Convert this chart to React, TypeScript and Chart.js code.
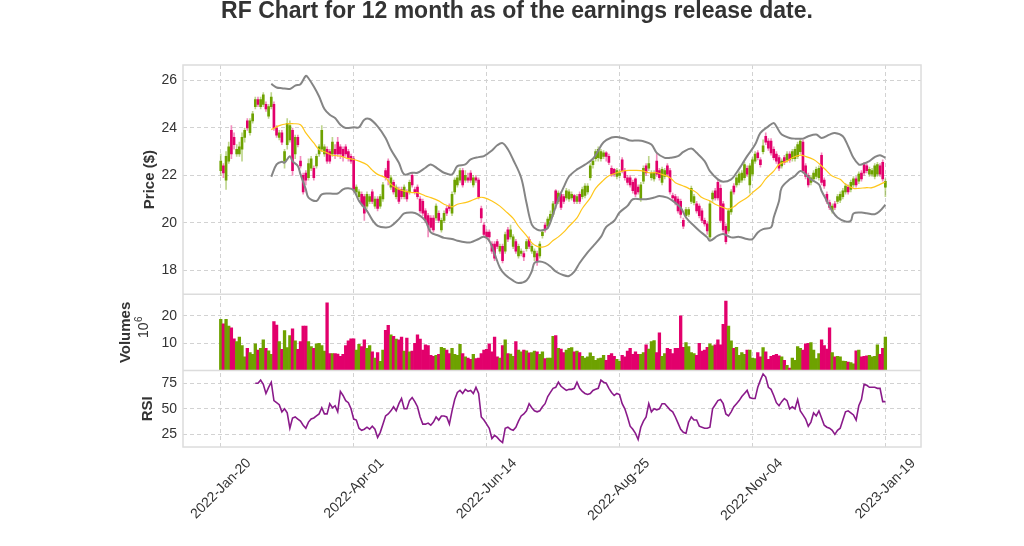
import React, { useEffect, useRef } from "react";
import { Chart, registerables } from "chart.js";

Chart.register(...registerables);

const FONT = "'Liberation Sans', Arial, sans-serif";

const tickDays = [0, 50, 100, 150, 200, 250];
const tickLabels = ["2022-Jan-20", "2022-Apr-01", "2022-Jun-14", "2022-Aug-25", "2022-Nov-04", "2023-Jan-19"];

const opens = [
  22.2, 22.4, 21.8, 22.6, 23.9, 23.6, 22.9, 22.9, 23.1, 23.6, 24.3, 23.8, 24.3, 24.9, 25.2, 24.9, 25.0, 25.0, 24.5, 24.9,
  25.0, 24.0, 23.6, 23.8, 22.6, 23.3, 23.5, 23.9, 22.9, 23.6, 22.6, 22.0, 22.1, 21.9, 22.3, 22.3, 22.4, 22.9, 23.1, 22.9,
  23.1, 23.0, 22.9, 23.1, 23.4, 23.2, 23.1, 23.2, 23.0, 22.8, 22.7, 21.3, 21.1, 21.2, 21.1, 20.7, 20.9, 21.3, 20.7, 21.0,
  20.7, 21.0, 22.2, 22.6, 21.5, 21.7, 21.1, 21.4, 21.4, 21.1, 21.3, 21.3, 22.0, 21.4, 21.5, 21.0, 20.9, 20.5, 20.3, 20.2,
  20.2, 20.2, 20.4, 19.7, 20.1, 20.6, 20.7, 20.4, 21.3, 21.6, 21.8, 22.2, 21.8, 21.9, 22.1, 21.6, 21.9, 21.8, 20.6, 19.9,
  19.6, 19.6, 19.1, 19.1, 19.2, 18.8, 19.0, 18.8, 19.7, 19.4, 19.0, 19.2, 18.6, 18.7, 18.7, 18.9, 19.3, 18.8, 18.55, 18.7,
  18.6, 19.45, 19.9, 19.85, 20.1, 20.35, 21.35, 20.9, 21.2, 21.1, 21.05, 21.0, 21.05, 21.15, 20.9, 21.2, 21.1, 21.15, 21.3, 21.9,
  22.45, 22.7, 22.75, 22.7, 22.8, 22.95, 22.8, 22.3, 22.25, 21.95, 22.0, 22.65, 22.2, 21.9, 21.9, 21.7, 21.85, 21.5, 20.99, 21.75,
  22.4, 22.3, 21.9, 21.85, 22.6, 22.2, 21.7, 21.95, 22.4, 22.2, 21.15, 21.1, 21.0, 20.9, 20.1, 20.3, 20.35, 20.9, 20.85, 20.8,
  20.7, 20.5, 20.1, 19.95, 19.4, 21.0, 21.35, 21.7, 21.45, 20.8, 19.85, 19.65, 20.45, 21.55, 21.6, 21.7, 21.8, 21.9, 22.3, 21.6,
  22.05, 22.6, 22.95, 22.65, 23.0, 23.65, 23.45, 23.45, 23.1, 22.9, 22.75, 22.4, 22.75, 22.65, 22.9, 22.7, 22.7, 22.8, 23.0, 23.4,
  22.4, 22.0, 21.7, 21.85, 21.95, 21.9, 22.85, 21.8, 21.2, 20.85, 20.5, 20.8, 20.9, 20.95, 21.1, 21.3, 21.5, 21.4, 21.6, 21.85,
  21.75, 22.1, 22.45, 22.4, 22.05, 22.05, 21.95, 22.05, 22.4, 22.55, 21.5,
];

const closes = [
  22.6, 22.1, 22.8, 23.2, 22.9, 23.3, 23.1, 23.2, 23.6, 23.9, 24.0, 24.3, 24.6, 25.2, 25.0, 25.2, 25.4, 24.8, 24.9, 25.3,
  24.0, 23.7, 23.8, 23.4, 23.0, 24.2, 24.1, 22.2, 23.6, 23.3, 22.4, 21.3, 21.8, 22.5, 22.7, 21.9, 22.8, 23.2, 23.9, 23.2,
  22.6, 22.6, 23.4, 22.9, 22.9, 22.9, 22.8, 22.9, 22.7, 22.6, 21.4, 21.5, 21.3, 20.8, 20.4, 21.2, 21.1, 20.9, 21.0, 20.6,
  21.1, 21.6, 21.9, 21.9, 21.9, 21.3, 21.5, 20.9, 21.1, 21.5, 21.0, 21.7, 21.6, 21.3, 21.1, 20.5, 20.4, 20.1, 19.9, 19.8,
  19.7, 20.7, 20.1, 20.1, 20.4, 20.4, 20.6, 21.2, 21.8, 21.9, 22.2, 21.6, 22.0, 21.8, 21.8, 21.9, 21.8, 21.1, 20.2, 19.5,
  19.4, 19.4, 18.8, 18.5, 19.0, 19.0, 18.4, 19.5, 19.3, 19.7, 19.4, 18.8, 19.0, 18.8, 18.55, 19.2, 19.0, 19.0, 18.8, 18.4,
  19.1, 19.6, 19.7, 20.15, 20.35, 20.8, 20.8, 21.25, 20.65, 20.9, 21.35, 21.3, 21.2, 20.9, 21.1, 20.9, 21.4, 21.55, 21.55, 22.4,
  22.6, 23.0, 23.1, 23.0, 22.95, 22.8, 22.55, 22.05, 22.05, 22.2, 22.1, 22.2, 21.9, 21.7, 21.6, 21.35, 21.2, 21.3, 21.6, 22.3,
  22.1, 22.5, 22.1, 22.1, 22.05, 21.9, 22.25, 22.2, 22.05, 21.3, 21.05, 20.85, 20.5, 20.35, 19.85, 20.55, 20.55, 21.45, 21.1, 20.5,
  20.3, 20.1, 19.95, 19.65, 20.8, 21.25, 21.05, 21.05, 20.1, 19.7, 19.2, 20.5, 21.3, 21.3, 21.9, 22.05, 22.1, 22.45, 22.05, 22.4,
  22.65, 22.9, 22.75, 22.45, 23.25, 23.4, 23.15, 22.95, 22.75, 22.6, 22.3, 22.6, 22.55, 22.9, 22.65, 23.0, 23.1, 23.3, 23.45, 22.2,
  21.95, 21.6, 21.9, 22.1, 22.25, 22.3, 21.7, 21.55, 20.9, 20.65, 20.7, 20.65, 21.1, 21.2, 21.35, 21.55, 21.3, 21.7, 21.85, 21.6,
  22.05, 21.85, 22.1, 22.2, 22.25, 22.2, 22.4, 22.45, 22.05, 21.85, 21.75,
];

const highs = [
  22.9, 22.5, 23.0, 23.4, 24.1, 23.8, 23.3, 23.4, 23.8, 24.0, 24.4, 24.4, 24.7, 25.3, 25.3, 25.3, 25.5, 25.1, 25.0, 25.5,
  25.1, 24.1, 23.9, 23.9, 23.1, 24.4, 24.3, 24.0, 23.7, 23.7, 22.8, 22.1, 22.2, 22.7, 22.8, 22.4, 22.9, 23.3, 24.1, 23.3,
  23.2, 23.1, 23.6, 23.3, 23.6, 23.3, 23.2, 23.3, 23.1, 22.9, 22.8, 21.6, 21.4, 21.3, 21.2, 21.3, 21.2, 21.4, 21.1, 21.1,
  21.2, 21.7, 22.3, 22.7, 22.0, 21.8, 21.6, 21.5, 21.5, 21.6, 21.4, 21.8, 22.1, 21.5, 21.6, 21.1, 21.0, 20.6, 20.4, 20.3,
  20.3, 20.8, 20.5, 20.2, 20.5, 20.7, 20.8, 21.3, 21.9, 22.0, 22.3, 22.3, 22.2, 22.1, 22.2, 22.0, 22.0, 21.9, 20.7, 20.0,
  19.7, 19.7, 19.2, 19.2, 19.3, 19.1, 19.1, 19.6, 19.8, 19.9, 19.5, 19.3, 19.1, 18.9, 18.8, 19.3, 19.4, 19.1, 18.9, 18.8,
  19.2, 19.7, 20.0, 20.25, 20.5, 20.9, 21.4, 21.35, 21.3, 21.2, 21.45, 21.4, 21.3, 21.2, 21.2, 21.3, 21.5, 21.65, 21.65, 22.5,
  22.7, 23.1, 23.2, 23.1, 23.05, 23.0, 22.9, 22.4, 22.3, 22.3, 22.25, 22.75, 22.3, 22.0, 22.0, 21.8, 21.9, 21.6, 21.7, 22.4,
  22.5, 22.8, 22.2, 22.2, 22.95, 22.3, 22.35, 22.3, 22.5, 22.3, 21.25, 21.2, 21.1, 21.0, 20.2, 20.65, 20.65, 21.55, 21.2, 20.9,
  20.8, 20.6, 20.2, 20.05, 20.9, 21.35, 21.45, 21.8, 21.6, 20.9, 19.95, 20.6, 21.4, 21.65, 22.0, 22.15, 22.2, 22.55, 22.4, 22.5,
  22.75, 23.0, 23.05, 22.75, 23.5, 23.8, 23.55, 23.55, 23.2, 23.0, 22.85, 22.7, 22.85, 23.0, 23.0, 23.1, 23.2, 23.4, 23.55, 23.5,
  22.5, 22.1, 22.0, 22.2, 22.35, 22.4, 22.95, 21.9, 21.3, 20.95, 20.8, 20.9, 21.2, 21.3, 21.45, 21.65, 21.6, 21.8, 21.95, 21.95,
  22.15, 22.2, 22.55, 22.5, 22.35, 22.3, 22.5, 22.55, 22.5, 22.65, 21.85,
];

const lows = [
  22.0, 21.9, 21.4, 22.5, 22.7, 23.1, 22.8, 22.8, 22.6, 23.4, 23.9, 23.7, 24.2, 24.8, 24.9, 24.8, 24.9, 24.7, 24.4, 24.8,
  23.9, 23.6, 23.5, 23.3, 22.3, 23.1, 23.4, 22.0, 22.7, 23.2, 22.3, 21.2, 21.6, 21.8, 22.2, 21.8, 22.3, 22.8, 23.0, 22.8,
  22.5, 22.5, 22.8, 22.7, 22.8, 22.7, 22.6, 22.8, 22.6, 22.5, 21.3, 21.2, 21.0, 20.7, 20.1, 20.6, 20.8, 20.8, 20.6, 20.5,
  20.6, 20.9, 21.8, 21.6, 21.4, 21.2, 21.0, 20.8, 21.0, 21.0, 20.9, 21.2, 21.5, 21.2, 21.0, 20.4, 20.3, 20.0, 19.4, 19.7,
  19.6, 20.1, 20.0, 19.6, 20.0, 20.3, 20.5, 20.3, 21.2, 21.5, 21.7, 21.5, 21.7, 21.7, 21.7, 21.5, 21.7, 21.0, 20.0, 19.4,
  19.3, 19.2, 18.7, 18.4, 18.9, 18.7, 18.3, 18.7, 19.2, 19.3, 18.9, 18.7, 18.5, 18.6, 18.4, 18.8, 18.9, 18.7, 18.4, 18.2,
  18.5, 19.35, 19.6, 19.75, 20.0, 20.25, 20.6, 20.8, 20.55, 20.8, 20.95, 20.9, 20.95, 20.8, 20.8, 20.8, 21.0, 21.05, 21.2, 21.8,
  22.3, 22.6, 22.6, 22.6, 22.7, 22.6, 22.45, 21.95, 21.95, 21.85, 21.9, 22.1, 21.8, 21.6, 21.5, 21.25, 21.1, 21.2, 20.9, 21.65,
  22.0, 22.2, 21.8, 21.75, 21.95, 21.8, 21.6, 21.85, 21.95, 21.2, 20.95, 20.75, 20.4, 20.2, 19.75, 20.2, 20.25, 20.8, 20.75, 20.4,
  20.2, 20.0, 19.85, 19.5, 19.3, 20.9, 20.95, 20.95, 20.0, 19.6, 19.1, 19.55, 20.35, 21.2, 21.5, 21.6, 21.7, 21.8, 21.95, 21.25,
  21.95, 22.5, 22.65, 22.35, 22.9, 23.3, 23.05, 22.85, 22.65, 22.5, 22.2, 22.3, 22.45, 22.55, 22.55, 22.6, 22.6, 22.7, 22.9, 22.1,
  21.85, 21.5, 21.6, 21.75, 21.85, 21.8, 21.6, 21.45, 20.8, 20.55, 20.4, 20.55, 20.8, 20.85, 21.0, 21.2, 21.2, 21.3, 21.5, 21.5,
  21.65, 21.75, 22.0, 22.1, 21.95, 21.95, 21.85, 21.95, 21.95, 21.75, 21.1,
];

// volumes in millions
const volumes = [
  18.75, 17.1, 18.75, 16.25, 15.6, 11.6, 10.6, 12.25, 9.1, 5.0, 8.1, 6.6, 5.9, 9.75, 7.5, 8.1, 11.25, 8.1, 7.25, 5.9,
  17.9, 16.6, 10.6, 7.75, 14.6, 8.4, 12.75, 15.25, 10.9, 7.75, 10.6, 16.25, 16.25, 10.6, 8.75, 8.1, 9.75, 10.0, 9.1, 7.1,
  24.75, 6.25, 6.25, 6.25, 6.0, 5.25, 5.9, 9.1, 10.9, 11.6, 11.6, 7.5, 9.6, 8.75, 11.25, 8.1, 9.1, 6.9, 4.6, 6.6,
  3.4, 7.5, 14.75, 16.5, 13.1, 12.5, 11.5, 11.25, 12.25, 7.1, 11.9, 6.9, 7.1, 10.0, 13.1, 11.5, 7.5, 9.4, 9.1, 5.6,
  5.25, 5.6, 5.9, 8.5, 8.1, 7.5, 6.25, 8.1, 5.9, 5.6, 9.6, 6.25, 5.0, 4.6, 4.1, 5.9, 4.4, 4.6, 6.25, 7.5,
  7.75, 9.75, 6.9, 12.25, 5.0, 4.6, 9.1, 11.25, 6.25, 6.0, 5.25, 10.6, 7.5, 6.9, 7.5, 7.25, 6.5, 6.6, 7.1, 6.9,
  5.9, 6.9, 4.4, 4.6, 4.6, 12.5, 12.75, 8.1, 7.9, 6.6, 7.5, 8.1, 8.4, 6.9, 7.1, 6.6, 5.25, 4.6, 5.0, 6.5,
  5.25, 3.75, 4.4, 4.6, 5.6, 3.75, 5.6, 6.25, 5.25, 4.1, 3.4, 5.6, 5.0, 7.1, 8.1, 5.9, 6.9, 5.9, 5.9, 6.6,
  9.4, 7.9, 10.6, 11.0, 6.6, 13.75, 5.25, 6.25, 8.1, 7.75, 6.25, 8.1, 8.1, 20.0, 8.5, 10.25, 8.75, 6.6, 6.25, 5.6,
  10.0, 7.1, 7.5, 8.5, 9.75, 9.0, 9.4, 11.25, 9.4, 16.9, 25.4, 16.25, 10.9, 8.1, 8.5, 5.6, 6.6, 5.9, 7.5, 7.5,
  4.6, 4.4, 6.6, 5.0, 8.4, 6.9, 4.1, 5.25, 5.6, 5.9, 5.4, 5.0, 3.75, 1.9, 0.9, 4.6, 3.75, 8.75, 8.1, 7.5,
  9.75, 10.0, 10.25, 7.5, 4.4, 6.25, 11.25, 9.1, 7.9, 15.6, 6.6, 5.0, 5.25, 5.0, 3.5, 3.4, 3.1, 2.9, 2.5, 7.25,
  7.5, 5.0, 5.25, 5.4, 5.6, 5.0, 5.25, 9.4, 5.9, 8.1, 12.25,
];

const maDays = [19, 22, 25, 27, 30, 32, 35, 37, 40, 42, 45, 47, 50, 52, 55, 57, 59, 62, 64, 67, 69, 72, 74, 77, 79, 82, 84, 87, 89, 92, 94, 97, 99, 102, 105, 107, 110, 112, 115, 117, 119, 121, 123, 125, 127, 129, 131, 134, 136, 139, 141, 144, 146, 149, 151, 154, 156, 159, 161, 164, 166, 169, 171, 174, 176, 179, 181, 184, 186, 189, 191, 193, 195, 198, 200, 203, 205, 208, 210, 213, 215, 218, 220, 223, 225, 228, 230, 233, 235, 238, 240, 243, 245, 248, 250];
const maValues = [23.93, 24.1, 24.18, 24.18, 24.14, 23.79, 23.37, 23.09, 22.95, 22.85, 22.81, 22.74, 22.67, 22.6, 22.45, 22.22, 22.04, 21.9, 21.62, 21.41, 21.34, 21.27, 21.27, 21.13, 21.06, 20.92, 20.78, 20.67, 20.78, 20.85, 20.92, 21.06, 21.06, 20.92, 20.7, 20.5, 20.18, 19.85, 19.45, 19.15, 19.0, 18.97, 19.05, 19.25, 19.4, 19.6, 19.85, 20.2, 20.6, 21.05, 21.45, 21.8, 21.98, 22.11, 22.18, 22.21, 22.21, 22.18, 22.11, 22.11, 22.04, 21.9, 21.69, 21.55, 21.45, 21.27, 21.06, 20.92, 20.78, 20.64, 20.57, 20.67, 20.85, 21.06, 21.27, 21.55, 21.85, 22.18, 22.46, 22.6, 22.74, 22.85, 22.8, 22.67, 22.5, 22.18, 21.97, 21.83, 21.62, 21.45, 21.45, 21.48, 21.48, 21.62, 21.73];

const upperDays = [19, 21, 23, 26, 28, 30, 32, 33, 35, 37, 39, 41, 43, 45, 47, 50, 52, 54, 56, 59, 62, 64, 67, 69, 72, 74, 77, 79, 82, 84, 87, 89, 92, 94, 97, 99, 102, 104, 106, 108, 110, 113, 115, 117, 119, 121, 123, 125, 127, 129, 131, 134, 137, 140, 142, 144, 147, 149, 152, 154, 157, 159, 162, 164, 167, 169, 172, 174, 177, 179, 182, 184, 187, 189, 192, 194, 196, 198, 201, 203, 206, 208, 209, 211, 214, 216, 219, 221, 224, 226, 229, 231, 234, 236, 238, 240, 241, 244, 246, 248, 250];
const upperValues = [25.86, 25.71, 25.68, 25.65, 25.79, 25.85, 26.2, 26.1, 25.75, 25.33, 24.8, 24.56, 24.42, 24.14, 24.0, 24.03, 24.03, 24.35, 24.38, 24.07, 23.58, 23.09, 22.53, 22.04, 22.11, 22.11, 22.32, 22.46, 22.25, 22.11, 22.04, 22.39, 22.46, 22.67, 22.77, 22.81, 23.05, 23.27, 23.36, 23.1, 22.66, 21.9, 20.84, 19.92, 19.71, 19.68, 19.78, 20.35, 21.0, 21.5, 21.95, 22.25, 22.45, 22.7, 23.05, 23.4, 23.6, 23.62, 23.55, 23.47, 23.47, 23.44, 23.3, 22.95, 22.74, 22.74, 22.81, 22.99, 23.13, 22.95, 22.6, 22.18, 21.83, 21.73, 21.83, 22.11, 22.45, 22.81, 23.3, 23.79, 24.07, 24.21, 24.07, 23.72, 23.58, 23.55, 23.55, 23.65, 23.72, 23.58, 23.72, 23.79, 23.65, 23.23, 22.74, 22.46, 22.46, 22.6, 22.77, 22.85, 22.74];

const lowerDays = [19, 21, 23, 24, 26, 27, 29, 30, 32, 33, 36, 38, 41, 44, 46, 48, 50, 52, 55, 57, 59, 62, 64, 67, 69, 72, 74, 77, 79, 82, 84, 87, 89, 92, 94, 97, 99, 101, 103, 105, 107, 110, 112, 115, 117, 118, 120, 122, 124, 126, 129, 131, 133, 135, 138, 140, 143, 145, 148, 150, 153, 155, 158, 160, 163, 165, 168, 170, 173, 175, 178, 180, 183, 184, 187, 189, 192, 195, 198, 200, 202, 204, 207, 208, 210, 211, 214, 216, 218, 220, 222, 225, 226, 228, 230, 232, 235, 237, 238, 241, 243, 246, 248, 250];
const lowerValues = [21.94, 22.46, 22.57, 22.53, 22.81, 22.6, 22.39, 22.04, 21.41, 21.06, 20.92, 21.2, 21.23, 21.23, 21.41, 21.45, 21.37, 20.92, 20.5, 20.12, 19.87, 19.8, 19.85, 20.15, 20.39, 20.43, 20.36, 20.08, 19.59, 19.45, 19.36, 19.31, 19.24, 19.17, 19.17, 19.31, 19.41, 19.24, 18.69, 18.1, 17.8, 17.55, 17.45, 17.56, 17.95, 18.3, 18.36, 18.3, 18.15, 17.94, 17.78, 17.75, 17.93, 18.3, 18.75, 19.0, 19.4, 19.82, 20.08, 20.43, 20.71, 20.99, 20.99, 20.99, 21.06, 21.13, 21.06, 20.92, 20.64, 20.22, 19.87, 19.66, 19.38, 19.24, 19.45, 19.52, 19.38, 19.4, 19.31, 19.31, 19.59, 19.73, 19.8, 20.22, 20.92, 21.48, 21.83, 21.97, 22.18, 22.04, 21.83, 21.62, 21.34, 20.92, 20.5, 20.22, 20.05, 20.08, 20.39, 20.43, 20.4, 20.36, 20.5, 20.76];

const rsiStart = 13;
const rsiValues = [
  75, 75, 78, 74, 65, 71, 76, 58, 56, 54, 47, 50, 46, 31, 41, 42, 40, 38, 34, 31,
  37, 40, 41, 43, 45, 51, 45, 45, 55, 51, 53, 47, 67, 63, 58, 56, 50, 40, 39, 31,
  29, 30, 32, 30, 33, 30, 22, 27, 35, 43, 45, 48, 52, 48, 55, 60, 50, 50, 58, 61,
  57, 52, 42, 35, 35, 36, 34, 37, 42, 39, 43, 43, 42, 35, 48, 59, 66, 68, 65, 69,
  67, 68, 65, 71, 65, 42, 39, 35, 31, 21, 24, 22, 19, 17, 31, 32, 30, 29, 32, 38,
  43, 45, 48, 55, 51, 48, 47, 48, 52, 55, 62, 66, 70, 71, 76, 72, 70, 68, 69, 69,
  70, 76, 70, 67, 65, 64, 65, 68, 69, 70, 78, 76, 75, 70, 66, 63, 65, 64, 55, 50,
  42, 33, 30, 26, 20, 32, 38, 42, 55, 47, 50, 49, 50, 55, 55, 52, 49, 47, 42, 36,
  30, 27, 26, 37, 42, 39, 39, 33, 32, 31, 31, 32, 50, 54, 58, 59, 55, 45, 43, 47,
  52, 55, 58, 62, 65, 68, 61, 60, 60, 71, 78, 84, 81, 71, 69, 63, 56, 53, 57, 60,
  58, 50, 52, 50, 59, 48, 44, 40, 33, 37, 46, 43, 48, 41, 34, 32, 31, 29, 25, 29,
  31, 39, 47, 48, 46, 44, 39, 53, 59, 74, 73, 71, 71, 71, 70, 70, 57, 57,
];

const UP = "#6ea200";
const DOWN = "#e2006c";
const UP_WICK = "rgba(110,162,0,0.45)";
const DOWN_WICK = "rgba(226,0,108,0.45)";
const GRID = "#d2d2d2";
const TEXT = "#333333";

const framePlugin = {
  id: "frame",
  afterDraw(chart: any) {
    const { ctx, chartArea } = chart;
    const { left, right, top, bottom } = chartArea;
    ctx.save();
    ctx.strokeStyle = "#dcdcdc";
    ctx.lineWidth = 1.5;
    ctx.strokeRect(left, top, right - left, bottom - top);
    const seps = [chart.scales.yVol.top, chart.scales.yRsi.top];
    ctx.beginPath();
    for (const y of seps) {
      ctx.moveTo(left, y);
      ctx.lineTo(right, y);
    }
    ctx.stroke();
    // volume scale multiplier text: 10 with superscript 6
    const s = chart.scales.yVol;
    ctx.translate(s.left + 31, (s.top + s.bottom) / 2 - 5);
    ctx.rotate(-Math.PI / 2);
    ctx.fillStyle = TEXT;
    ctx.textBaseline = "middle";
    ctx.textAlign = "left";
    ctx.font = `14px ${FONT}`;
    const wBase = ctx.measureText("10").width;
    ctx.font = `10px ${FONT}`;
    const wExp = ctx.measureText("6").width;
    const x0 = -(wBase + wExp) / 2;
    ctx.font = `14px ${FONT}`;
    ctx.fillText("10", x0, 0);
    ctx.font = `10px ${FONT}`;
    ctx.fillText("6", x0 + wBase + 0.5, -5);
    ctx.restore();
  },
};

export default function App() {
  const canvasRef = useRef<HTMLCanvasElement | null>(null);

  useEffect(() => {
    if (!canvasRef.current) return;
    const isUp = closes.map((c, i) => c >= opens[i]);
    const days = opens.map((_, i) => i);

    const gridOpts = { color: GRID, lineWidth: 1, drawTicks: false };
    const borderOpts = { display: false, dash: [4, 3] };
    const tickFont = { family: FONT, size: 14 };
    const titleFont = { family: FONT, size: 15, weight: "bold" as const };

    const chart = new Chart(canvasRef.current, {
      type: "bar",
      data: {
        datasets: [
          {
            type: "line",
            data: upperDays.map((d, k) => ({ x: d, y: upperValues[k] })),
            borderColor: "#858585",
            borderWidth: 2,
            pointRadius: 0,
            tension: 0.35,
            yAxisID: "y",
            order: 0,
          } as any,
          {
            type: "line",
            data: lowerDays.map((d, k) => ({ x: d, y: lowerValues[k] })),
            borderColor: "#858585",
            borderWidth: 2,
            pointRadius: 0,
            tension: 0.35,
            yAxisID: "y",
            order: 0,
          } as any,
          {
            type: "line",
            data: maDays.map((d, k) => ({ x: d, y: maValues[k] })),
            borderColor: "#ffc61a",
            borderWidth: 1.2,
            pointRadius: 0,
            tension: 0.35,
            yAxisID: "y",
            order: 0,
          } as any,
          {
            type: "bar",
            data: days.map((i) => ({ x: i, y: [opens[i], closes[i]] })),
            backgroundColor: isUp.map((u) => (u ? UP : DOWN)),
            barThickness: 2,
            minBarLength: 1,
            grouped: false,
            yAxisID: "y",
            order: 1,
          } as any,
          {
            type: "bar",
            data: days.map((i) => ({ x: i, y: [lows[i], highs[i]] })),
            backgroundColor: isUp.map((u) => (u ? UP_WICK : DOWN_WICK)),
            barThickness: 1,
            grouped: false,
            yAxisID: "y",
            order: 2,
          } as any,
          {
            type: "bar",
            data: days.map((i) => ({ x: i, y: volumes[i] })),
            backgroundColor: isUp.map((u) => (u ? UP : DOWN)),
            barPercentage: 1,
            categoryPercentage: 1,
            grouped: false,
            yAxisID: "yVol",
            order: 3,
          } as any,
          {
            type: "line",
            data: rsiValues.map((v, k) => ({ x: rsiStart + k, y: v })),
            borderColor: "#8a1a8a",
            borderWidth: 1.6,
            pointRadius: 0,
            yAxisID: "yRsi",
            order: 0,
          } as any,
        ],
      },
      options: {
        animation: false,
        responsive: true,
        maintainAspectRatio: false,
        layout: { padding: { left: 113, right: 103, top: 0, bottom: 0 } },
        plugins: {
          legend: { display: false },
          tooltip: { enabled: false },
          title: {
            display: true,
            text: "RF Chart for 12 month as of the earnings release date.",
            font: { family: FONT, size: 23, weight: "bold" },
            color: TEXT,
            padding: { top: -2, bottom: 39.4 },
          },
        },
        scales: {
          x: {
            type: "linear",
            min: -14.2,
            max: 263.4,
            offset: false,
            afterBuildTicks: (s: any) => {
              s.ticks = tickDays.map((v) => ({ value: v }));
            },
            afterFit: (s: any) => {
              s.height = 99;
            },
            ticks: {
              autoSkip: false,
              maxRotation: 45,
              minRotation: 45,
              padding: 8,
              labelOffset: 28,
              font: tickFont,
              color: TEXT,
              callback: (v: any) => {
                const k = tickDays.indexOf(Number(v));
                return k >= 0 ? tickLabels[k] : "";
              },
            },
            grid: { ...gridOpts, offset: false },
            border: borderOpts,
          },
          y: {
            type: "linear",
            axis: "y",
            position: "left",
            stack: "panes",
            stackWeight: 3,
            weight: 3,
            min: 16.98,
            max: 26.66,
            afterBuildTicks: (s: any) => {
              s.ticks = [18, 20, 22, 24, 26].map((v) => ({ value: v }));
            },
            afterFit: (s: any) => {
              s.width = 70;
            },
            ticks: { padding: 6, font: tickFont, color: TEXT },
            grid: gridOpts,
            border: borderOpts,
            title: { display: true, text: "Price ($)", font: titleFont, color: TEXT, padding: { top: 27.5, bottom: 0 } },
          },
          yVol: {
            type: "linear",
            axis: "y",
            position: "left",
            stack: "panes",
            stackWeight: 1,
            weight: 2,
            min: 0,
            max: 27.9,
            afterBuildTicks: (s: any) => {
              s.ticks = [10, 20].map((v) => ({ value: v }));
            },
            afterFit: (s: any) => {
              s.width = 70;
            },
            ticks: { padding: 6, font: tickFont, color: TEXT },
            grid: gridOpts,
            border: borderOpts,
            title: { display: true, text: "Volumes", font: titleFont, color: TEXT, padding: { top: 4, bottom: 0 } },
          },
          yRsi: {
            type: "linear",
            axis: "y",
            position: "left",
            stack: "panes",
            stackWeight: 1,
            weight: 1,
            min: 12.65,
            max: 87.35,
            afterBuildTicks: (s: any) => {
              s.ticks = [25, 50, 75].map((v) => ({ value: v }));
            },
            afterFit: (s: any) => {
              s.width = 70;
            },
            ticks: { padding: 6, font: tickFont, color: TEXT },
            grid: gridOpts,
            border: borderOpts,
            title: { display: true, text: "RSI", font: titleFont, color: TEXT, padding: { top: 26, bottom: 0 } },
          },
        } as any,
      },
      plugins: [framePlugin],
    } as any);

    return () => chart.destroy();
  }, []);

  return (
    <div style={{ position: "absolute", left: 0, top: 0, width: 1024, height: 546, background: "#ffffff" }}>
      <canvas ref={canvasRef} />
    </div>
  );
}
